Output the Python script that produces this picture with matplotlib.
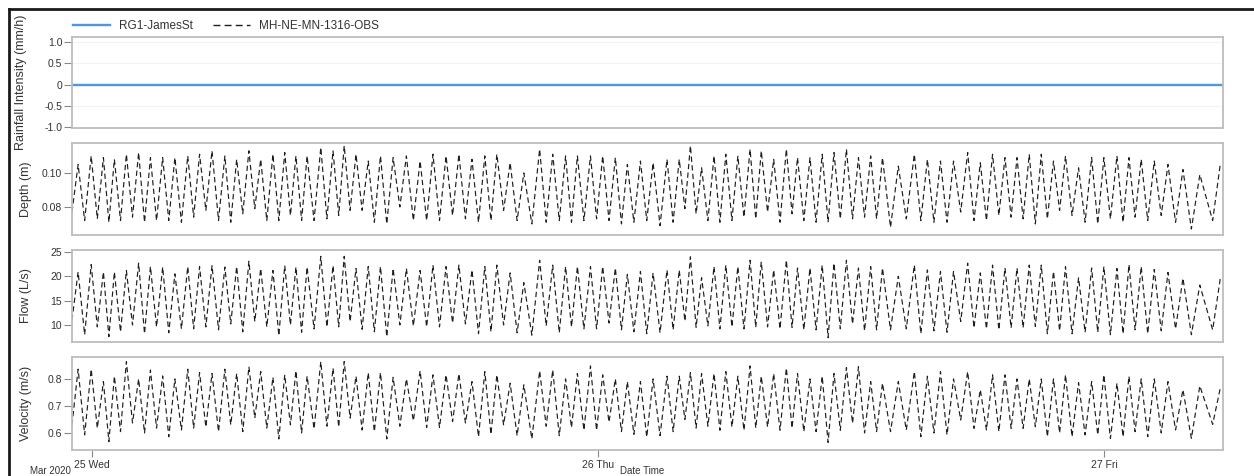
import numpy as np
import pandas as pd
import matplotlib
matplotlib.use("Agg")
import matplotlib.pyplot as plt
import matplotlib.dates as mdates
from matplotlib.lines import Line2D

plt.rcParams["font.family"] = ["Liberation Sans", "DejaVu Sans"]
plt.rcParams["axes.unicode_minus"] = False

# hours after 2020-03-25 00:00
start_hours = -0.95
end_hours = 53.64

peak_hours = [
    -0.66, -0.04, 0.54, 1.06, 1.63, 2.21, 2.77, 3.35, 3.93, 4.54,
    5.10, 5.69, 6.30, 6.86, 7.44, 8.00, 8.58, 9.14, 9.67, 10.20,
    10.85, 11.43, 11.96, 12.52, 13.10, 13.68, 14.28, 14.91, 15.56, 16.17,
    16.79, 17.40, 18.02, 18.63, 19.20, 19.83, 20.48, 21.23, 21.85, 22.46,
    23.02, 23.64, 24.22, 24.82, 25.39, 26.01, 26.61, 27.27, 27.85, 28.38,
    28.91, 29.50, 30.06, 30.63, 31.21, 31.74, 32.33, 32.93, 33.46, 34.05,
    34.63, 35.19, 35.78, 36.35, 36.93, 37.49, 38.24, 39.00, 39.62, 40.24,
    40.86, 41.53, 42.13, 42.71, 43.30, 43.87, 44.45, 45.02, 45.60, 46.17,
    46.79, 47.41, 47.99, 48.61, 49.18, 49.76, 50.38, 51.03, 51.74, 52.54,
    53.51,
]
trough_hours = [
    -0.95, -0.35, 0.25, 0.80, 1.35, 1.92, 2.49, 3.06, 3.64, 4.24,
    4.82, 5.40, 6.00, 6.58, 7.15, 7.72, 8.29, 8.86, 9.41, 9.94,
    10.53, 11.14, 11.70, 12.24, 12.81, 13.39, 13.98, 14.60, 15.24, 15.87,
    16.48, 17.10, 17.71, 18.33, 18.92, 19.52, 20.16, 20.86, 21.54, 22.16,
    22.74, 23.33, 23.93, 24.52, 25.11, 25.70, 26.31, 26.94, 27.56, 28.12,
    28.65, 29.21, 29.78, 30.35, 30.92, 31.48, 32.04, 32.63, 33.20, 33.76,
    34.34, 34.91, 35.49, 36.07, 36.64, 37.21, 37.87, 38.62, 39.31, 39.93,
    40.55, 41.20, 41.83, 42.42, 43.01, 43.59, 44.16, 44.74, 45.31, 45.89,
    46.48, 47.10, 47.70, 48.30, 48.90, 49.47, 50.07, 50.71, 51.39, 52.14,
    53.15,
]

depth_peaks = [
    0.105, 0.110, 0.109, 0.108, 0.111, 0.112, 0.109, 0.109, 0.109, 0.110,
    0.111, 0.113, 0.110, 0.108, 0.113, 0.108, 0.111, 0.112, 0.110, 0.110,
    0.115, 0.113, 0.116, 0.111, 0.107, 0.110, 0.109, 0.110, 0.107, 0.111,
    0.110, 0.111, 0.108, 0.110, 0.111, 0.106, 0.100, 0.114, 0.111, 0.110,
    0.110, 0.110, 0.110, 0.109, 0.105, 0.107, 0.106, 0.108, 0.108, 0.116,
    0.103, 0.110, 0.111, 0.110, 0.114, 0.113, 0.108, 0.114, 0.109, 0.109,
    0.111, 0.112, 0.114, 0.109, 0.110, 0.109, 0.104, 0.111, 0.108, 0.107,
    0.107, 0.112, 0.106, 0.111, 0.109, 0.109, 0.111, 0.111, 0.107, 0.110,
    0.103, 0.109, 0.109, 0.110, 0.109, 0.108, 0.107, 0.105, 0.102, 0.099,
    0.105,
]
depth_troughs = [
    0.077, 0.072, 0.073, 0.071, 0.072, 0.074, 0.071, 0.072, 0.072, 0.071,
    0.074, 0.078, 0.072, 0.071, 0.076, 0.079, 0.072, 0.072, 0.075, 0.072,
    0.072, 0.073, 0.075, 0.078, 0.078, 0.071, 0.070, 0.080, 0.072, 0.072,
    0.072, 0.075, 0.073, 0.071, 0.072, 0.078, 0.072, 0.070, 0.071, 0.072,
    0.071, 0.072, 0.073, 0.072, 0.070, 0.071, 0.072, 0.069, 0.071, 0.079,
    0.076, 0.072, 0.071, 0.072, 0.074, 0.073, 0.077, 0.071, 0.076, 0.072,
    0.071, 0.071, 0.073, 0.073, 0.074, 0.073, 0.068, 0.073, 0.072, 0.071,
    0.071, 0.077, 0.072, 0.072, 0.075, 0.074, 0.073, 0.070, 0.073, 0.078,
    0.075, 0.071, 0.070, 0.073, 0.071, 0.074, 0.072, 0.075, 0.071, 0.067,
    0.072,
]

flow_peaks = [
    20.9, 22.4, 20.9, 20.9, 21.2, 22.7, 22.0, 21.9, 20.5, 22.0,
    22.0, 22.2, 21.9, 22.0, 23.1, 21.6, 21.2, 22.2, 21.9, 21.9,
    24.1, 22.2, 24.1, 21.6, 22.0, 22.0, 21.6, 21.6, 21.2, 22.3,
    22.0, 22.3, 21.3, 22.0, 22.3, 20.7, 18.7, 23.3, 22.3, 22.0,
    22.0, 22.0, 22.0, 21.7, 20.4, 21.0, 20.7, 21.3, 21.3, 24.0,
    19.7, 22.0, 22.3, 22.0, 23.3, 23.0, 21.3, 23.3, 21.7, 21.7,
    22.3, 22.7, 23.3, 21.7, 22.0, 21.7, 20.0, 22.3, 21.3, 21.0,
    21.0, 22.7, 20.7, 22.3, 21.7, 21.7, 22.3, 22.3, 21.0, 22.0,
    19.7, 21.7, 22.0, 21.6, 22.4, 22.0, 21.4, 20.8, 19.6, 18.2,
    19.5,
]
flow_troughs = [
    11.0, 8.0, 9.6, 7.6, 8.6, 10.0, 8.2, 9.6, 8.4, 9.2,
    9.2, 9.6, 9.0, 10.2, 8.6, 10.7, 9.6, 7.8, 10.0, 8.5,
    9.2, 9.6, 9.6, 10.7, 9.1, 8.6, 7.6, 10.0, 9.8, 9.6,
    9.6, 10.4, 10.2, 8.2, 8.6, 10.0, 8.4, 7.9, 9.8, 8.4,
    9.6, 9.2, 9.2, 10.4, 9.0, 8.6, 8.2, 8.4, 9.0, 10.8,
    9.5, 9.8, 9.2, 9.6, 9.2, 9.5, 9.6, 9.2, 9.5, 9.0,
    9.0, 7.4, 9.2, 10.2, 8.8, 9.0, 9.0, 9.2, 8.2, 8.8,
    8.5, 10.7, 9.4, 9.2, 9.0, 9.4, 9.4, 9.7, 8.2, 8.8,
    8.2, 8.5, 8.5, 8.0, 8.2, 9.0, 8.2, 8.8, 9.2, 8.0,
    9.0,
]

vel_peaks = [
    0.836, 0.836, 0.790, 0.810, 0.864, 0.800, 0.833, 0.811, 0.800, 0.836,
    0.823, 0.820, 0.836, 0.820, 0.845, 0.827, 0.806, 0.815, 0.830, 0.810,
    0.864, 0.840, 0.864, 0.810, 0.823, 0.823, 0.806, 0.800, 0.830, 0.815,
    0.815, 0.819, 0.790, 0.827, 0.815, 0.784, 0.778, 0.830, 0.833, 0.800,
    0.820, 0.848, 0.815, 0.800, 0.790, 0.790, 0.800, 0.810, 0.810, 0.823,
    0.820, 0.820, 0.827, 0.810, 0.848, 0.810, 0.820, 0.840, 0.820, 0.800,
    0.810, 0.820, 0.842, 0.845, 0.790, 0.784, 0.790, 0.827, 0.810, 0.827,
    0.800, 0.827, 0.760, 0.815, 0.815, 0.800, 0.800, 0.800, 0.800, 0.815,
    0.786, 0.790, 0.815, 0.784, 0.810, 0.800, 0.800, 0.790, 0.760, 0.774,
    0.766,
]
vel_troughs = [
    0.630, 0.593, 0.618, 0.568, 0.605, 0.637, 0.600, 0.618, 0.586, 0.611,
    0.618, 0.622, 0.605, 0.630, 0.605, 0.655, 0.618, 0.578, 0.630, 0.600,
    0.615, 0.625, 0.622, 0.655, 0.611, 0.605, 0.578, 0.625, 0.645, 0.620,
    0.620, 0.642, 0.637, 0.586, 0.595, 0.630, 0.590, 0.578, 0.625, 0.590,
    0.620, 0.610, 0.610, 0.640, 0.605, 0.595, 0.585, 0.590, 0.605, 0.650,
    0.618, 0.625, 0.610, 0.622, 0.610, 0.618, 0.622, 0.610, 0.618, 0.605,
    0.605, 0.565, 0.610, 0.636, 0.600, 0.605, 0.605, 0.611, 0.586, 0.600,
    0.593, 0.648, 0.617, 0.611, 0.605, 0.617, 0.617, 0.623, 0.586, 0.600,
    0.586, 0.593, 0.593, 0.580, 0.586, 0.605, 0.586, 0.600, 0.611, 0.580,
    0.632,
]

rain_hours = [start_hours, end_hours]
rain_values = [0.0, 0.0]

base = pd.Timestamp("2020-03-25")


def to_time(hours):
    return (base + pd.to_timedelta(np.asarray(hours), unit="h")).to_numpy()


def zigzag(troughs, peaks):
    return np.column_stack([troughs, peaks]).ravel()


obs_time = to_time(zigzag(trough_hours, peak_hours))

W, H = 1254, 476
fig = plt.figure(figsize=(W / 100, H / 100), dpi=100)

left = 72 / W
width = (1223 - 72) / W
panel_px = [(37, 128), (143, 235), (250, 342), (357, 450)]
axes = []
for top, bot in panel_px:
    ax = fig.add_axes([left, 1 - bot / H, width, (bot - top) / H])
    axes.append(ax)

blue = "#5096dc"
dash = (0, (4.5, 2.8))
line_kw = dict(color="#1e1e1e", lw=0.85, ls=dash)

ax_rain, ax_depth, ax_flow, ax_vel = axes
ax_rain.plot(to_time(rain_hours), rain_values, color=blue, lw=1.7)
ax_depth.plot(obs_time, zigzag(depth_troughs, depth_peaks), **line_kw)
ax_flow.plot(obs_time, zigzag(flow_troughs, flow_peaks), **line_kw)
ax_vel.plot(obs_time, zigzag(vel_troughs, vel_peaks), **line_kw)

ax_rain.set_ylim(-1.02, 1.12)
ax_rain.set_yticks([-1.0, -0.5, 0, 0.5, 1.0])
ax_rain.set_yticklabels(["-1.0", "-0.5", "0", "0.5", "1.0"])
for yv in [-0.5, 0.5, 1.0]:
    ax_rain.axhline(yv, color="#f3f3f3", lw=0.8, zorder=0)
ax_depth.set_ylim(0.0635, 0.1176)
ax_depth.set_yticks([0.08, 0.10])
ax_depth.set_yticklabels(["0.08", "0.10"])
ax_flow.set_ylim(6.5, 25.4)
ax_flow.set_yticks([10, 15, 20, 25])
ax_vel.set_ylim(0.537, 0.881)
ax_vel.set_yticks([0.6, 0.7, 0.8])

xmin, xmax = to_time([start_hours, end_hours])
for ax in axes:
    ax.set_xlim(xmin, xmax)
    for s in ax.spines.values():
        s.set_color("#bdbdbd")
        s.set_linewidth(1.3)
    ax.tick_params(axis="y", length=6, width=0.8, color="#888888",
                   labelsize=7.5, labelcolor="#333333", pad=1)
    ax.tick_params(axis="x", bottom=False, labelbottom=False)

ax_vel.xaxis.set_major_locator(mdates.DayLocator())
ax_vel.xaxis.set_major_formatter(mdates.DateFormatter("%d %a"))
ax_vel.tick_params(axis="x", bottom=True, labelbottom=True, length=5,
                   width=0.8, color="#888888", labelsize=7.5,
                   labelcolor="#333333", pad=2)

ylabels = ["Rainfall Intensity (mm/h)", "Depth (m)", "Flow (L/s)", "Velocity (m/s)"]
label_x = [21, 26, 26, 26]
for (top, bot), lab, lx in zip(panel_px, ylabels, label_x):
    fig.text(lx / W, 1 - (top + bot) / 2 / H, lab, rotation=90,
             ha="center", va="center", fontsize=9, color="#333333")

handles = [
    Line2D([], [], color=blue, lw=1.7),
    Line2D([], [], color="#1e1e1e", lw=1.0, ls=(0, (5, 3))),
]
fig.legend(handles, ["RG1-JamesSt", "MH-NE-MN-1316-OBS"], loc="center left",
           bbox_to_anchor=(73 / W, 1 - 26 / H), ncol=2, frameon=False,
           fontsize=8.5, labelcolor="#333333", handlelength=3.1,
           handletextpad=0.8, columnspacing=1.7, borderpad=0, borderaxespad=0)

fig.text(30 / W, 0.5 / H, "Mar 2020", ha="left", va="bottom",
         fontsize=7, color="#333333")
fig.text(642 / W, 0.5 / H, "Date Time", ha="center", va="bottom",
         fontsize=7, color="#333333")

fig.add_artist(Line2D([8.5 / W, 8.5 / W], [0, 1 - 8.5 / H],
                      transform=fig.transFigure, color="#1a1a1a", lw=2))
fig.add_artist(Line2D([8.5 / W, 1], [1 - 8.5 / H, 1 - 8.5 / H],
                      transform=fig.transFigure, color="#1a1a1a", lw=2))

fig.savefig("out.png", dpi=100)
